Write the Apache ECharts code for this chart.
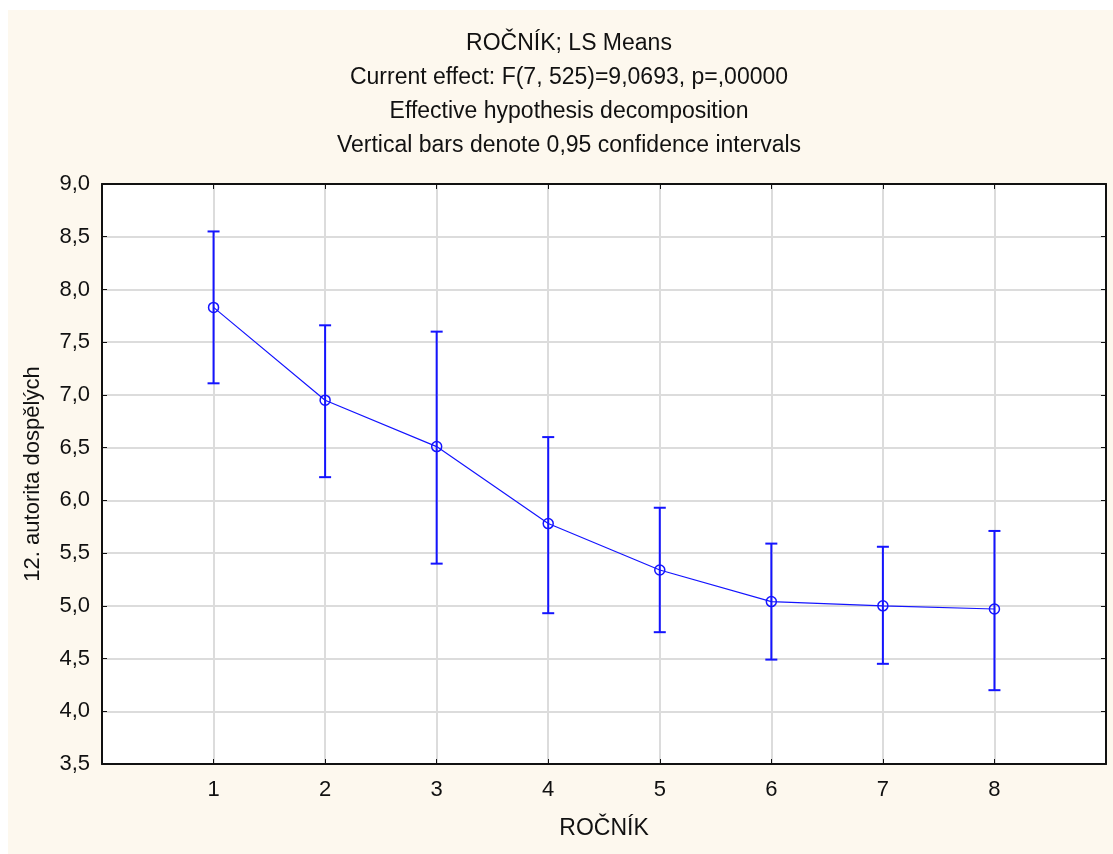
<!DOCTYPE html>
<html><head><meta charset="utf-8">
<script src="https://cdn.jsdelivr.net/npm/echarts@6/dist/echarts.min.js"></script>
<style>html,body{margin:0;padding:0;background:#fff}#c{width:1113px;height:854px}</style>
</head><body><div id="c"></div>
<script>
const titleLines = ['ROČNÍK; LS Means','Current effect: F(7, 525)=9,0693, p=,00000','Effective hypothesis decomposition','Vertical bars denote 0,95 confidence intervals'];
const xName = 'ROČNÍK';
const yName = '12. autorita dospělých';
const categories = [1, 2, 3, 4, 5, 6, 7, 8];
const means = [7.83, 6.95, 6.51, 5.78, 5.34, 5.04, 5.00, 4.97];
const upper = [8.55, 7.66, 7.60, 6.60, 5.93, 5.59, 5.56, 5.71];
const lower = [7.11, 6.22, 5.40, 4.93, 4.75, 4.49, 4.45, 4.20];

const FONT = 'Liberation Sans';
const BLUE = '#1414ff';
const chart = echarts.init(document.getElementById('c'), null, {renderer: 'canvas'});
const fmt = v => v.toFixed(1).replace('.', ',');
const lineData = categories.map((c, i) => [c, means[i]]);
const errData = categories.map((c, i) => [c, lower[i], upper[i]]);
const axBase = {
  axisLine: {show: true, onZero: false, lineStyle: {color: '#111', width: 2}},
  axisTick: {show: true, inside: true, length: 5, lineStyle: {color: '#111', width: 1}},
};
chart.setOption({
  backgroundColor: '#ffffff',
  animation: false,
  graphic: [{type: 'rect', z: -10, shape: {x: 8, y: 10, width: 1105, height: 844}, style: {fill: '#fdf8ee'}}],
  title: {
    text: titleLines.join('\n'), left: 564, top: 22, textAlign: 'center',
    textStyle: {fontFamily: FONT, fontSize: 23, fontWeight: 'normal', color: '#111', lineHeight: 34}
  },
  grid: {left: 102, right: 7, top: 184, bottom: 90, show: true, backgroundColor: '#fff', borderWidth: 0},
  xAxis: [
    Object.assign({type: 'value', min: 0, max: 9, interval: 1, position: 'bottom',
      name: xName, nameLocation: 'middle', nameGap: 53,
      nameTextStyle: {fontFamily: FONT, fontSize: 23, color: '#111'},
      axisLabel: {fontFamily: FONT, fontSize: 22, color: '#111', margin: 15,
        formatter: v => (v >= 1 && v <= 8) ? String(v) : ''},
      splitLine: {show: true, lineStyle: {color: '#dcdcdc', width: 2}}}, axBase),
    Object.assign({type: 'value', min: 0, max: 9, interval: 1, position: 'top',
      axisLabel: {show: false}, splitLine: {show: false}}, axBase)
  ],
  yAxis: [
    Object.assign({type: 'value', min: 3.5, max: 9, interval: 0.5, position: 'left',
      name: yName, nameLocation: 'middle', nameGap: 58,
      nameTextStyle: {fontFamily: FONT, fontSize: 22, color: '#111'},
      axisLabel: {fontFamily: FONT, fontSize: 22, color: '#111', margin: 12, formatter: fmt},
      splitLine: {show: true, lineStyle: {color: '#dcdcdc', width: 2}}}, axBase),
    Object.assign({type: 'value', min: 3.5, max: 9, interval: 0.5, position: 'right',
      axisLabel: {show: false}, splitLine: {show: false}}, axBase)
  ],
  series: [
    {
      type: 'custom', xAxisIndex: 0, yAxisIndex: 0, data: errData, z: 3,
      renderItem: (params, api) => {
        const x = api.value(0);
        const lo = api.coord([x, api.value(1)]);
        const hi = api.coord([x, api.value(2)]);
        const hw = 6;
        const st = {stroke: BLUE, lineWidth: 2, fill: null};
        return {type: 'group', children: [
          {type: 'line', shape: {x1: lo[0], y1: lo[1], x2: hi[0], y2: hi[1]}, style: st},
          {type: 'line', shape: {x1: lo[0]-hw, y1: lo[1], x2: lo[0]+hw, y2: lo[1]}, style: st},
          {type: 'line', shape: {x1: hi[0]-hw, y1: hi[1], x2: hi[0]+hw, y2: hi[1]}, style: st}
        ]};
      }
    },
    {
      type: 'line', xAxisIndex: 0, yAxisIndex: 0, data: lineData, z: 4,
      lineStyle: {color: BLUE, width: 1.2},
      symbol: 'circle', symbolSize: 10, showSymbol: true,
      itemStyle: {color: 'rgba(0,0,0,0)', borderColor: BLUE, borderWidth: 1.5}
    }
  ]
});
</script></body></html>
